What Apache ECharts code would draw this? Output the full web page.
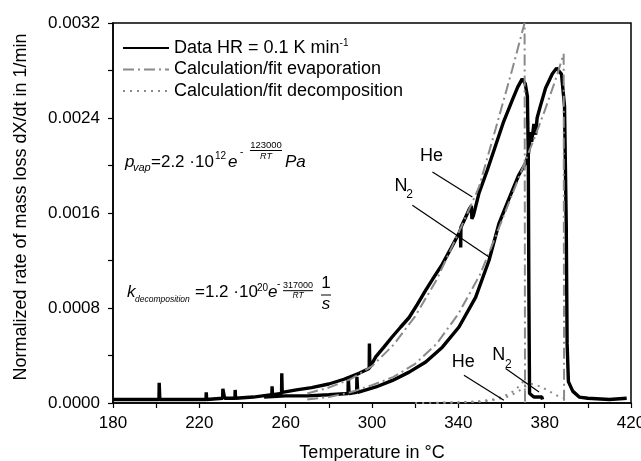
<!DOCTYPE html>
<html>
<head>
<meta charset="utf-8">
<script src="https://cdn.jsdelivr.net/npm/echarts@6/dist/echarts.min.js"></script>
<style>
  html, body { margin: 0; padding: 0; background: #fff; }
  #chart { width: 641px; height: 461px; }
</style>
</head>
<body>
<div id="chart"></div>
<script>
// temperatures in °C, rates in 1/min
const heTemp = [180, 190, 201.3, 201.4, 201.6, 201.7, 212, 223.1, 223.2, 223.4,
  230.8, 230.9, 231.6, 231.7, 236.5, 236.6, 236.8, 245, 253.6, 253.7,
  253.9, 258.1, 258.2, 258.4, 265, 272, 280, 287, 294, 298.7,
  298.8, 299, 301.8, 305.5, 309.5, 313.3, 317.2, 321, 324.9, 328.7,
  332.6, 336.5, 340.3, 341, 341.1, 341.2, 343, 345, 346, 346.3,
  347, 349.6, 353.4, 357.3, 361, 365, 367.5, 369.6, 371, 372,
  372.4, 372.7, 373, 375, 378.7, 379];
const heRate = [0.00003, 0.00003, 0.00003, 0.00017, 0.00017, 0.00003, 0.00003, 0.00003, 0.00009, 0.00003,
  0.00004, 0.00012, 0.00012, 0.00004, 0.00004, 0.00011, 0.00004, 0.00005, 0.00007, 0.00014,
  0.00007, 0.00008, 0.00025, 0.00009, 0.00011, 0.00013, 0.00016, 0.0002, 0.00025, 0.00029,
  0.0005, 0.0003, 0.00039, 0.00047, 0.00056, 0.00064, 0.00072, 0.00083, 0.00095, 0.00106,
  0.00117, 0.0013, 0.00143, 0.00146, 0.00131, 0.00148, 0.00155, 0.00163, 0.00166, 0.00155,
  0.00158, 0.00177, 0.00196, 0.00217, 0.00237, 0.00255, 0.00266, 0.00273, 0.00269, 0.00258,
  0.0021, 0.0009, 0.00008, 0.00005, 0.00005, 0.00003];

const n2Temp = [250, 260, 270, 280, 288.9, 289, 289.3, 289.4, 292.9, 293,
  293.3, 293.4, 294.1, 301.8, 309.5, 317.2, 324.9, 332.6, 340.3, 348,
  354.2, 358.8, 363, 368, 371.2, 372.5, 373.5, 374, 375, 375.8,
  376.5, 378, 380.4, 383.5, 385.5, 387.8, 389.2, 390, 390.4, 391,
  393, 396, 400, 410, 418];
const n2Rate = [0.00005, 0.00006, 0.00006, 0.00007, 0.00008, 0.00022, 0.00022, 0.00008, 0.00009, 0.00022,
  0.00022, 0.00009, 0.000095, 0.000135, 0.00019, 0.00026, 0.000345, 0.00047, 0.00064, 0.00089,
  0.0012, 0.00151, 0.0017, 0.00192, 0.00202, 0.0021, 0.00228, 0.0022, 0.00235, 0.00226,
  0.0024, 0.0025, 0.00265, 0.00277, 0.00282, 0.00277, 0.0025, 0.0015, 0.0005, 0.00018,
  0.0001, 0.00005, 0.00004, 0.00003, 0.00004];

const evapHeTemp = [270, 280, 290, 300, 310, 320, 330, 340, 345, 349.6, 357.3, 365, 370.7, 370.9];
const evapHeRate = [0.00008, 0.00013, 0.0002, 0.00031, 0.00049, 0.00073, 0.00104, 0.00143, 0.00163, 0.00182, 0.00231, 0.00281, 0.0032, 0];

const evapN2Temp = [270, 280, 290, 300, 310, 320, 330, 340, 350, 355, 360, 365, 370, 375, 380, 385, 388.8, 389];
const evapN2Rate = [0.00003, 0.00005, 0.00009, 0.00015, 0.00022, 0.00033, 0.0005, 0.00075, 0.00108, 0.0013,
  0.00153, 0.00176, 0.00199, 0.00222, 0.00246, 0.00272, 0.00294, 0];

const decHeTemp = [320, 340, 350, 356, 360, 364, 367, 369.5, 370.8, 370.9];
const decHeRate = [0, 0.000005, 0.000015, 0.00003, 0.00005, 0.00008, 0.00012, 0.00017, 0.0002, 0];

const decN2Temp = [330, 350, 358, 364, 368, 371, 374, 378, 382, 386, 388.9, 389];
const decN2Rate = [0, 0.00001, 0.00003, 0.00006, 0.0001, 0.00014, 0.00016, 0.00014, 0.0001, 0.00006, 0.00004, 0];

// pointer lines for the gas labels, [from, to] in data units
const pointers = [
  [[328.0, 0.001945], [346.5, 0.001735]],
  [[318.7, 0.001665], [354.2, 0.00123]],
  [[342.6, 0.000233], [361.1, 0.0000227]],
  [[361.9, 0.00029], [377.4, 0.0000926]]
];

const xTicks = { min: 180, max: 420, step: 20, labelStep: 40 };
const yTicks = { min: 0, max: 0.0032, step: 0.0004, labelStep: 0.0008 };

const FONT = 'Liberation Sans, Arial, sans-serif';
const zip = (a, b) => a.map((x, i) => [x, b[i]]);

const chart = echarts.init(document.getElementById('chart'));

const fitGray = '#8a8a8a';
const dataStyle = { color: '#000', width: 3.4 };
const evapStyle = { color: fitGray, width: 2, type: [11, 4, 2, 4] };
const decStyle = { color: fitGray, width: 2, type: [2, 5] };

function txt(x, y, text, size) {
  return { type: 'text', x: x, y: y, silent: true, z: 100,
    style: { text: text, fill: '#000', font: size + 'px ' + FONT, align: 'left', verticalAlign: 'middle' } };
}
function it(x, y, text, size, align) {
  return { type: 'text', x: x, y: y, silent: true, z: 100,
    style: { text: text, fill: '#000', font: 'italic ' + size + 'px ' + FONT, align: align || 'left', verticalAlign: 'middle' } };
}
function center(x, y, text, size) {
  return { type: 'text', x: x, y: y, silent: true, z: 100,
    style: { text: text, fill: '#000', font: size + 'px ' + FONT, align: 'center', verticalAlign: 'middle' } };
}
function bar(x1, x2, y) {
  return { type: 'line', silent: true, z: 100, shape: { x1: x1, y1: y, x2: x2, y2: y }, style: { stroke: '#000', lineWidth: 1 } };
}

const graphics = [
  // gas labels
  center(431.5, 156.5, 'He', 18),
  center(401, 186.5, 'N', 18),
  center(409.5, 195, '2', 12),
  center(463.3, 361.7, 'He', 18),
  center(498.7, 355, 'N', 18),
  center(508.3, 365, '2', 12),
  // evaporation formula
  it(125, 162, 'p', 17),
  it(133, 168, 'vap', 11),
  txt(151, 162, '=2.2 ·10', 17),
  txt(215, 156, '12', 10),
  it(228, 162, 'e', 17),
  txt(240, 152, '-', 10),
  center(266, 145, '123000', 9.5),
  bar(250, 282, 150.5),
  it(266, 156, 'RT', 9, 'center'),
  it(285, 162, 'Pa', 17),
  // decomposition formula
  it(127, 292, 'k', 17),
  it(135, 300, 'decomposition', 8.5),
  txt(195, 292, '=1.2 ·10', 17),
  txt(257, 288, '20', 10),
  it(268, 292, 'e', 17),
  txt(277, 284, '-', 10),
  center(298, 285.5, '317000', 9),
  bar(283, 313, 290.7),
  it(298, 295.5, 'RT', 8.5, 'center'),
  center(326, 283, '1', 17),
  bar(321, 331, 295),
  it(326, 304, 's', 17, 'center')
];

const legendNames = {
  Data: '{t|Data HR = 0.1 K min}{s|-1}',
  Evap: '{t|Calculation/fit evaporation}',
  Decomp: '{t|Calculation/fit decomposition}'
};

chart.setOption({
  animation: false,
  backgroundColor: '#fff',
  textStyle: { fontFamily: FONT },
  grid: {
    left: 113, right: 10, top: 23, bottom: 58,
    containLabel: false, outerBoundsMode: 'none',
    show: true, borderColor: '#000', borderWidth: 1.5, backgroundColor: 'transparent'
  },
  legend: {
    orient: 'vertical',
    left: 117,
    top: 33,
    padding: 5,
    itemWidth: 46,
    itemHeight: 14,
    itemGap: 3.5,
    itemStyle: { opacity: 0 },
    data: ['Data', 'Evap', 'Decomp'],
    formatter: name => legendNames[name],
    textStyle: {
      color: '#000',
      rich: {
        t: { fontSize: 18, lineHeight: 20, color: '#000', fontFamily: FONT },
        s: { fontSize: 10, verticalAlign: 'top', color: '#000', fontFamily: FONT }
      }
    }
  },
  xAxis: {
    type: 'value',
    min: xTicks.min,
    max: xTicks.max,
    interval: xTicks.step,
    name: 'Temperature in °C',
    nameLocation: 'middle',
    nameGap: 41,
    nameTextStyle: { fontSize: 18, color: '#000', fontFamily: FONT },
    axisLine: { show: true, onZero: false, lineStyle: { color: '#000', width: 1.5 } },
    axisTick: { show: true, length: 5, lineStyle: { color: '#000', width: 1.2 } },
    axisLabel: {
      margin: 12, fontSize: 17, color: '#000', fontFamily: FONT,
      showMaxLabel: true, hideOverlap: false,
      formatter: v => ((v - xTicks.min) % xTicks.labelStep === 0 ? String(v) : '')
    },
    splitLine: { show: false }
  },
  yAxis: {
    type: 'value',
    min: yTicks.min,
    max: yTicks.max,
    interval: yTicks.step,
    name: 'Normalized rate of mass loss dX/dt in 1/min',
    nameLocation: 'middle',
    nameGap: 83,
    nameTextStyle: { fontSize: 18, color: '#000', fontFamily: FONT, padding: [0, 0, 0, 12] },
    axisLine: { show: true, lineStyle: { color: '#000', width: 1.5 } },
    axisTick: { show: true, length: 5, lineStyle: { color: '#000', width: 1.2 } },
    axisLabel: {
      margin: 13, fontSize: 17, color: '#000', fontFamily: FONT,
      formatter: v => (Math.round(v / yTicks.step) % Math.round(yTicks.labelStep / yTicks.step) === 0 ? v.toFixed(4) : '')
    },
    splitLine: { show: false }
  },
  series: [
    {
      name: 'Data', type: 'line', data: zip(heTemp, heRate), symbol: 'none',
      lineStyle: dataStyle, itemStyle: { color: '#000' }, z: 3,
      markLine: {
        silent: true, symbol: ['none', 'none'], label: { show: false },
        lineStyle: { color: '#000', width: 1.2, type: 'solid' },
        data: pointers.map(p => [{ coord: p[0] }, { coord: p[1] }])
      }
    },
    { name: 'Data', type: 'line', data: zip(n2Temp, n2Rate), symbol: 'none', lineStyle: dataStyle, itemStyle: { color: '#000' }, z: 3 },
    { name: 'Evap', type: 'line', data: zip(evapHeTemp, evapHeRate), symbol: 'none', lineStyle: evapStyle, itemStyle: { color: fitGray }, z: 4 },
    { name: 'Evap', type: 'line', data: zip(evapN2Temp, evapN2Rate), symbol: 'none', lineStyle: evapStyle, itemStyle: { color: fitGray }, z: 4 },
    { name: 'Decomp', type: 'line', data: zip(decHeTemp, decHeRate), symbol: 'none', lineStyle: decStyle, itemStyle: { color: fitGray }, z: 4 },
    { name: 'Decomp', type: 'line', data: zip(decN2Temp, decN2Rate), symbol: 'none', lineStyle: decStyle, itemStyle: { color: fitGray }, z: 4 }
  ],
  graphic: graphics
});
</script>
</body>
</html>
